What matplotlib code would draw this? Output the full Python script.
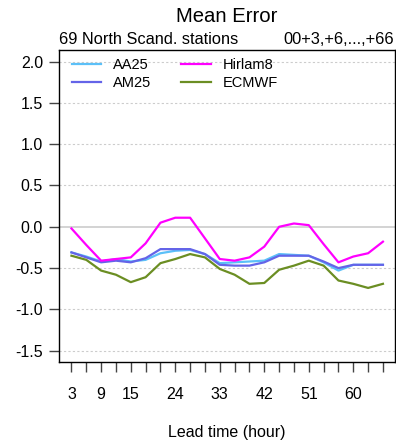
import matplotlib
matplotlib.use("Agg")
import matplotlib.pyplot as plt

plt.rcParams['font.family'] = ['Liberation Sans', 'DejaVu Sans']

lead_hours = list(range(3, 67, 3))
tick_labels_at = [3, 9, 15, 24, 33, 42, 51, 60]

aa25 = [-0.31, -0.36, -0.42, -0.39, -0.42, -0.40, -0.32, -0.29, -0.28, -0.33, -0.44, -0.43,
        -0.42, -0.41, -0.33, -0.34, -0.35, -0.43, -0.53, -0.46, -0.46, -0.46]
am25 = [-0.31, -0.37, -0.43, -0.41, -0.43, -0.38, -0.27, -0.27, -0.27, -0.33, -0.46, -0.47,
        -0.47, -0.43, -0.35, -0.35, -0.35, -0.42, -0.50, -0.46, -0.46, -0.46]
hirlam8 = [-0.02, -0.22, -0.41, -0.39, -0.37, -0.20, 0.05, 0.11, 0.11, -0.14, -0.39, -0.41,
           -0.37, -0.24, 0.00, 0.04, 0.02, -0.21, -0.43, -0.36, -0.32, -0.18]
ecmwf = [-0.35, -0.40, -0.53, -0.58, -0.67, -0.61, -0.44, -0.39, -0.33, -0.37, -0.51, -0.58,
         -0.69, -0.68, -0.52, -0.47, -0.41, -0.47, -0.65, -0.69, -0.74, -0.69]

yticks = [-1.5, -1.0, -0.5, 0.0, 0.5, 1.0, 1.5, 2.0]

fig = plt.figure(figsize=(3.96, 4.44), dpi=100)
ax = fig.add_axes([59 / 396, 1 - 362.3 / 444, (395.4 - 59) / 396, (362.3 - 50) / 444])

for y in yticks:
    if y == 0.0:
        ax.axhline(y, color='#cccccc', lw=1.2, zorder=1)
    else:
        ax.axhline(y, color='#cccccc', lw=0.8, ls=(0, (2, 2)), zorder=1)

ax.plot(lead_hours, aa25, color='#5BC0F8', lw=1.6, label='AA25', zorder=3)
ax.plot(lead_hours, am25, color='#6464E8', lw=1.6, label='AM25', zorder=3)
ax.plot(lead_hours, hirlam8, color='#FF00FF', lw=1.6, label='Hirlam8', zorder=3)
ax.plot(lead_hours, ecmwf, color='#6B8E23', lw=1.6, label='ECMWF', zorder=3)

ax.set_xlim(0.48, 68.52)
ax.set_ylim(-1.64, 2.14)
ax.set_xticks(lead_hours)
ax.set_xticklabels([str(h) if h in tick_labels_at else '' for h in lead_hours])
ax.set_yticks(yticks)
ax.set_yticklabels(['%.1f' % y for y in yticks])
ax.tick_params(axis='both', labelsize=11.5, color='#444444', width=1.0, length=7.5)
ax.tick_params(axis='x', pad=10.5)
ax.tick_params(axis='y', pad=4)
for s in ax.spines.values():
    s.set_linewidth(1.0)

ax.set_xlabel('Lead time (hour)', fontsize=11.5, labelpad=16)

fig.text(0.573, 1 - 16 / 444, 'Mean Error', ha='center', va='center', fontsize=14.6)
fig.text(59 / 396, 1 - 40 / 444, '69 North Scand. stations', ha='left', va='center', fontsize=11.8)
fig.text(394 / 396, 1 - 40 / 444, '00+3,+6,...,+66', ha='right', va='center', fontsize=11.8)

ax.legend(loc='upper left', bbox_to_anchor=(0.038, 0.975), ncol=2, frameon=False,
          fontsize=10.5, handlelength=2.0, handletextpad=0.8, columnspacing=2.1,
          labelspacing=0.3, borderpad=0, borderaxespad=0)

fig.savefig('out.png', dpi=100)
